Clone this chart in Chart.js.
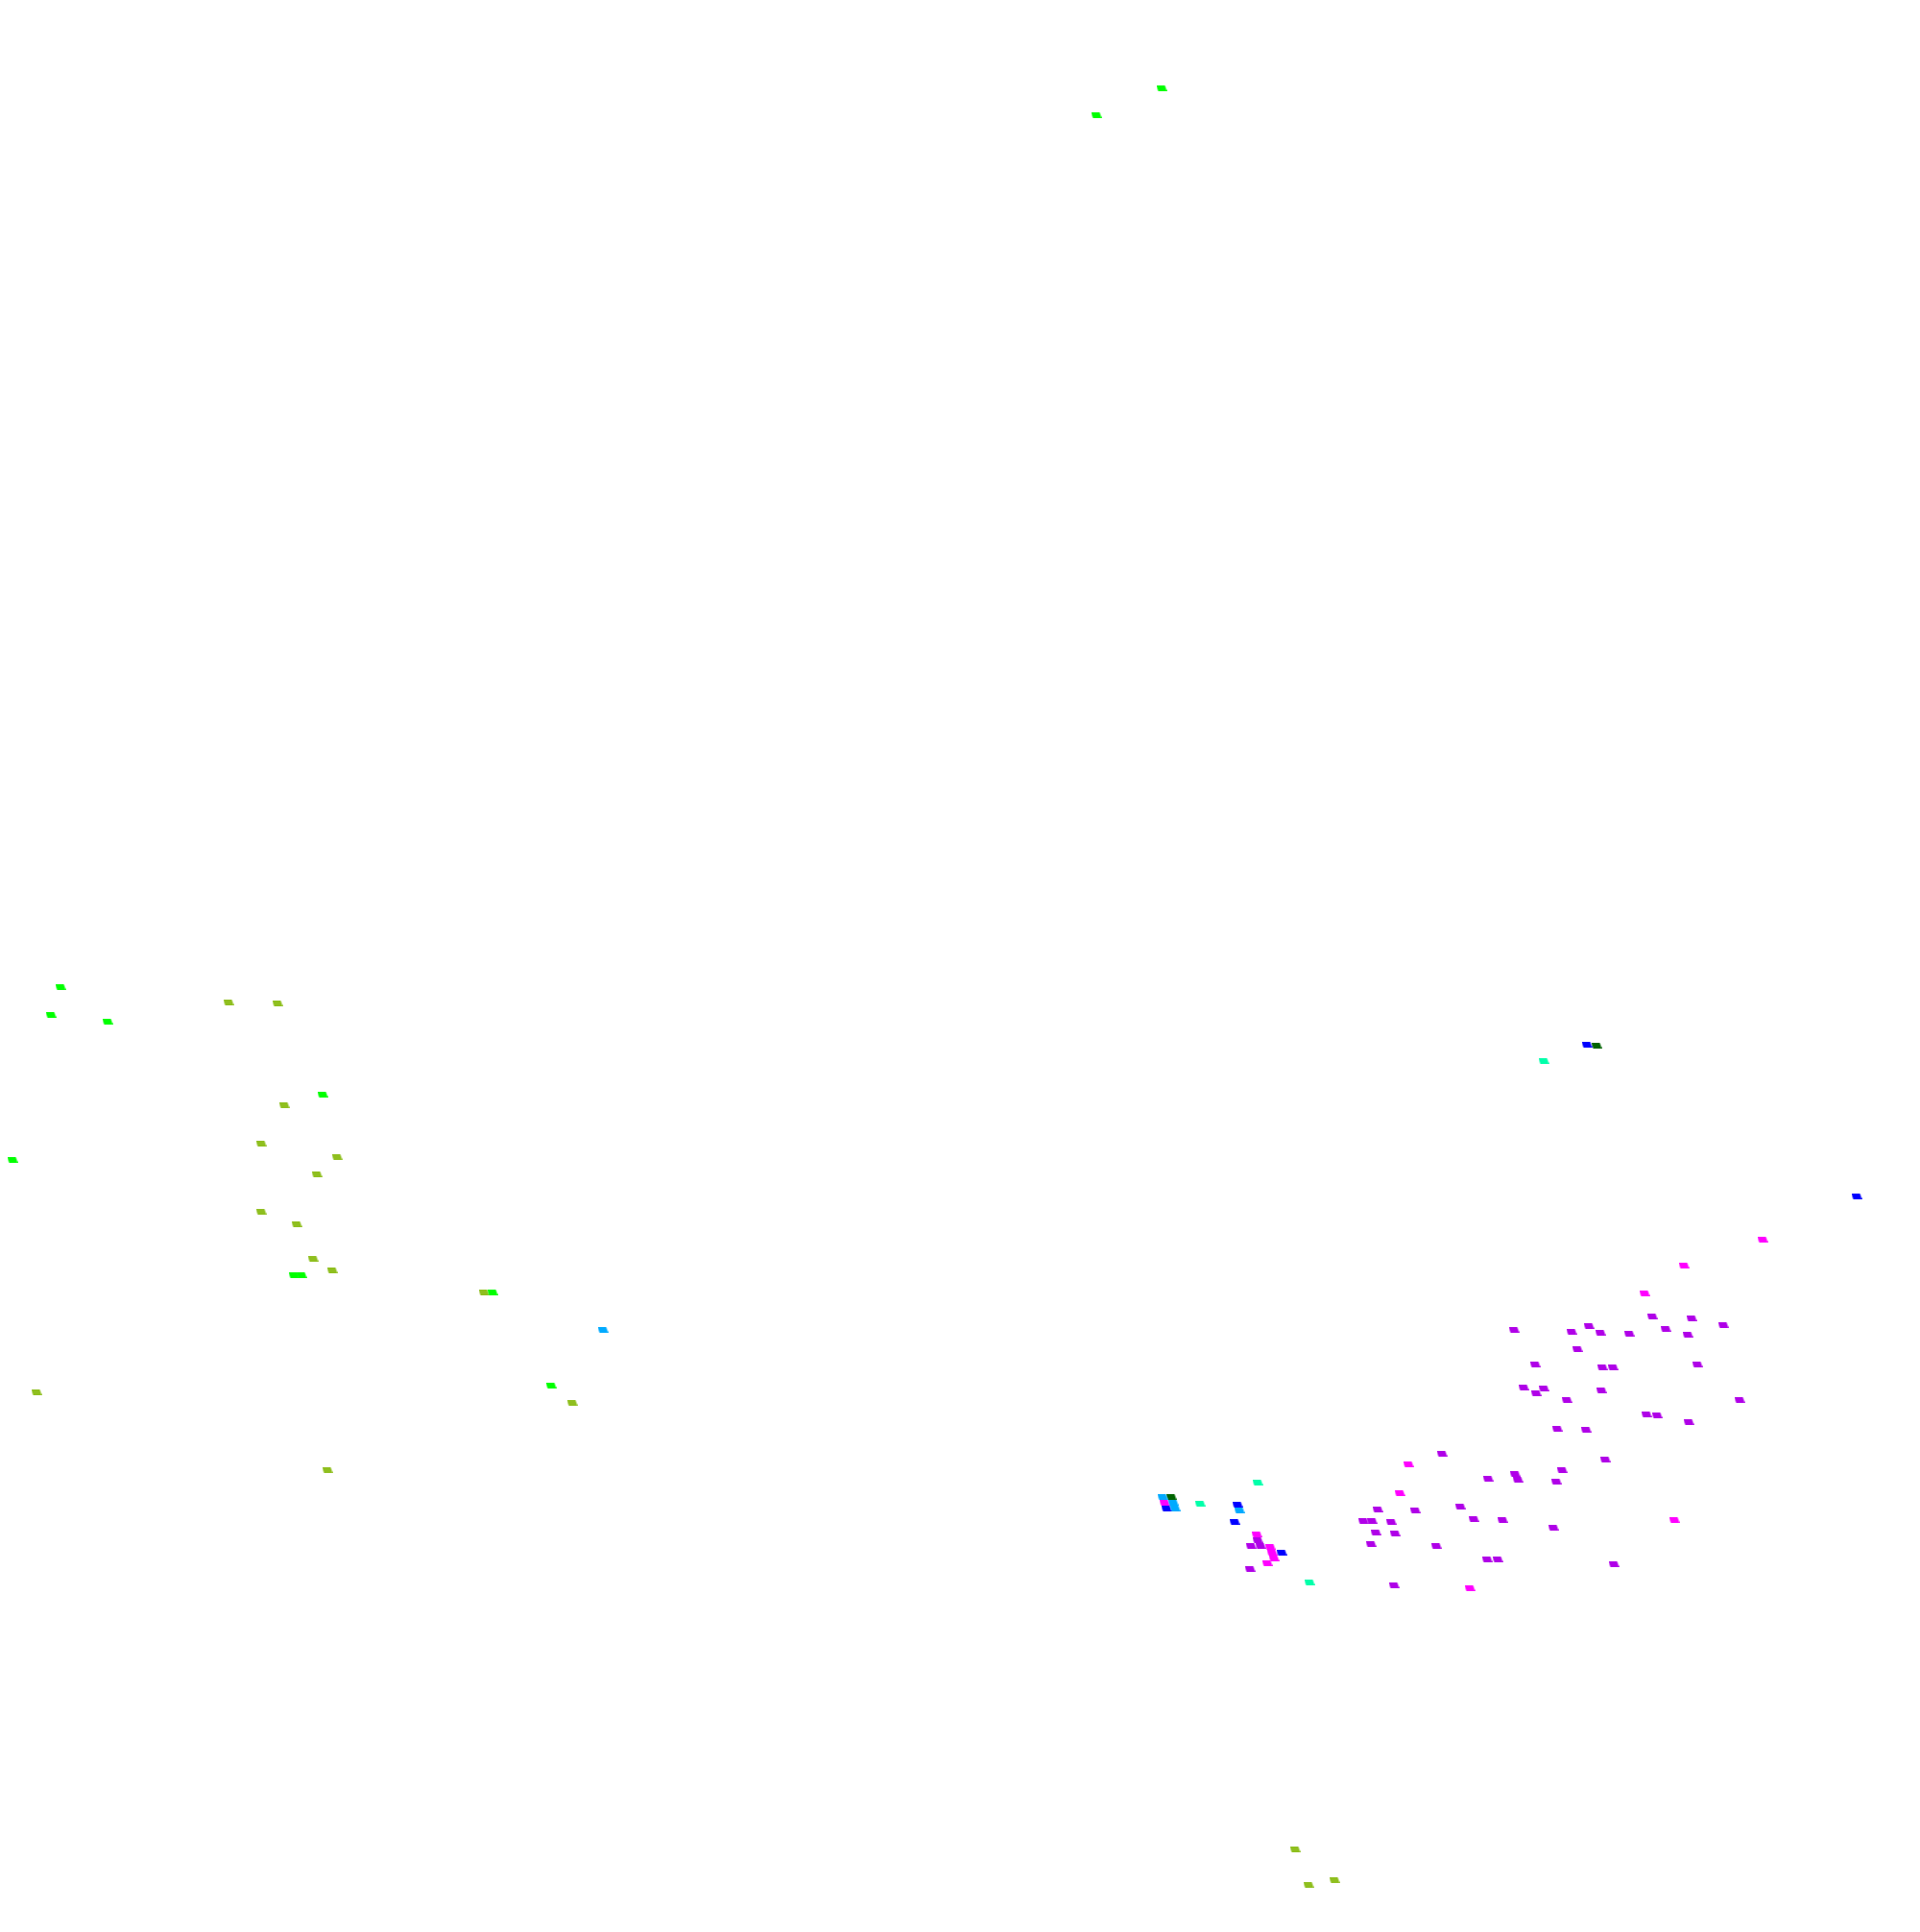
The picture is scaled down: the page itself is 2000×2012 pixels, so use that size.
<!DOCTYPE html>
<html>
<head>
<meta charset="utf-8">
<script src="https://cdn.jsdelivr.net/npm/chart.js@4"></script>
<style>
html,body{margin:0;padding:0;background:#fff;}
#wrap{width:2000px;height:2012px;}
</style>
</head>
<body>
<div id="wrap"><canvas id="plot"></canvas></div>
<script>
// point values (x to the right, y downward)
const limeX=[1210,1142,63,53,112,13,336,306,314,513,574];
const limeY=[92,120,1028,1057,1064,1208,1140,1328,1328,1346,1443];

const oliveX=[238,289,296,272,272,309,351,330,326,346,504,596,341,38,1349,1363,1390];
const oliveY=[1044,1045,1151,1191,1262,1275,1205,1223,1311,1323,1346,1461,1531,1450,1926,1963,1958];

const skyX=[628,1211,1222,1224,1291];
const skyY=[1385,1559,1565,1571,1573];

const blueX=[1653,1934,1215,1289,1286,1335];
const blueY=[1088,1246,1571,1567,1585,1617];

const darkX=[1663,1220];
const darkY=[1089,1559];

const tealX=[1608,1310,1250,1364];
const tealY=[1105,1544,1566,1648];

const magentaX=[1836,1754,1713,1213,1309,1323,1325,1327,1320,1467,1458,1531,1744];
const magentaY=[1291,1318,1347,1565,1598,1611,1617,1623,1628,1525,1555,1654,1583];

const purpleX=[1721,1762,1795,1577,1637,1655,1667,1697,1735,1758,1643,1599,1669,1680,1768,1587,1608,1600,1668,1632,1812,1715,1726,1759,1622,1652,1672,1578,1581,1627,1621,1565,1618,1681,
  1310,1303,1313,1302,1502,1550,1435,1474,1521,1420,1429,1449,1535,1433,1453,1428,1496,1549,1560,1452];
const purpleY=[1371,1373,1380,1385,1387,1381,1388,1389,1384,1390,1405,1421,1424,1424,1421,1445,1446,1451,1448,1458,1458,1473,1474,1481,1488,1489,1520,1535,1541,1531,1543,1583,1591,1629,
  1604,1610,1610,1634,1514,1540,1572,1573,1569,1584,1584,1585,1582,1596,1597,1608,1610,1624,1624,1651];

// small slanted marker
function marker(color){
    const c=document.createElement("canvas");
    c.width=11;
    c.height=6;
    const g=c.getContext("2d");
    g.fillStyle=color;
    g.beginPath();
    g.moveTo(0,0);
    g.lineTo(9,0);
    g.lineTo(11,6);
    g.lineTo(2,6);
    g.closePath();
    g.fill();
    return c;
}

function pts(xs,ys){
    return xs.map((x,i)=>({x:x,y:ys[i]}));
}

function set(name,xs,ys,color){
    return {
        label:name,
        data:pts(xs,ys),
        pointStyle:marker(color),
        backgroundColor:color,
        borderColor:color,
        showLine:false,
        clip:false
    };
}

new Chart(document.getElementById("plot"),{
    type:"scatter",
    data:{
        datasets:[
            set("sky",skyX,skyY,"#00aaff"),
            set("lime",limeX,limeY,"#00ff00"),
            set("blue",blueX,blueY,"#0000ff"),
            set("dark",darkX,darkY,"#006400"),
            set("magenta",magentaX,magentaY,"#ff00ff"),
            set("olive",oliveX,oliveY,"#8fbf1f"),
            set("teal",tealX,tealY,"#00ffaa"),
            set("purple",purpleX,purpleY,"#b000e8")
        ]
    },
    options:{
        responsive:true,
        maintainAspectRatio:false,
        animation:false,
        layout:{padding:0,autoPadding:false},
        plugins:{
            legend:{display:false},
            tooltip:{enabled:false}
        },
        scales:{
            x:{type:"linear",min:0,max:2000,display:false},
            y:{type:"linear",min:0,max:2012,reverse:true,display:false}
        }
    }
});
</script>
</body>
</html>
